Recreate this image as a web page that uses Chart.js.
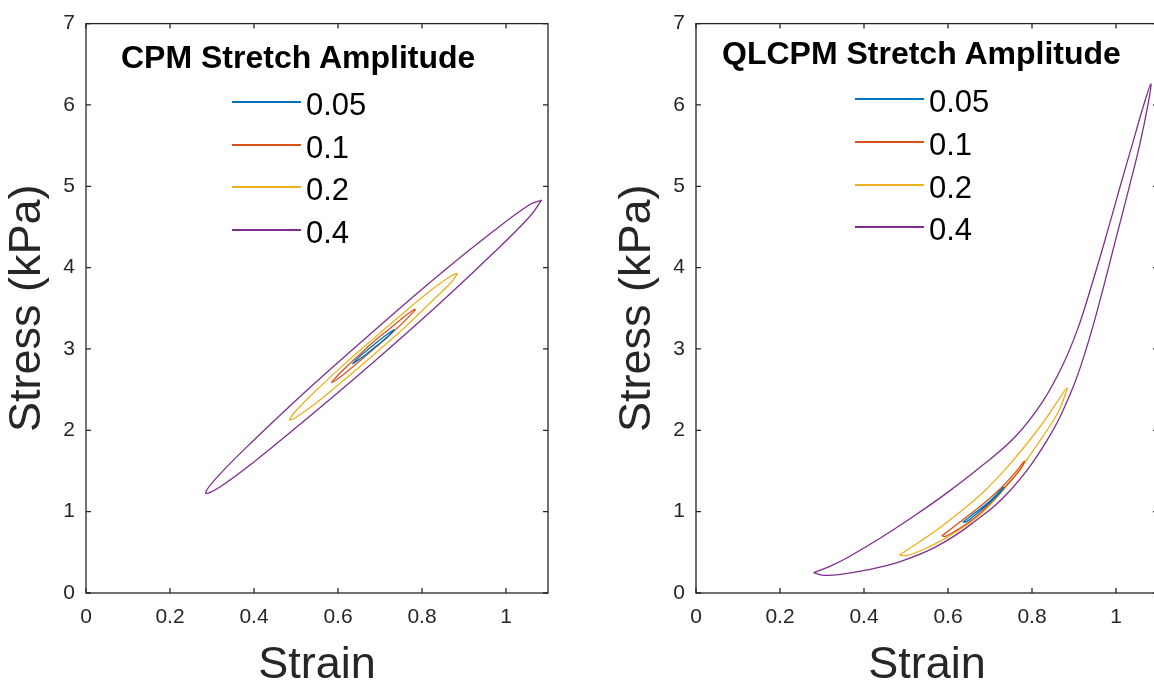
<!DOCTYPE html>
<html>
<head>
<meta charset="utf-8">
<script src="https://cdn.jsdelivr.net/npm/chart.js@4.4.1/dist/chart.umd.min.js"></script>
<style>
  html, body { margin: 0; padding: 0; width: 1154px; height: 686px; overflow: hidden; background: #fff; }
  body { position: relative; font-family: "Liberation Sans", Arial, Helvetica, sans-serif; }
  .panel { position: absolute; top: 0; width: 577px; height: 700px; }
  .lg-title { position: absolute; font-weight: bold; font-size: 32px; line-height: 32px; color: #000; white-space: nowrap; }
  .lg-line { position: absolute; height: 2px; }
  .lg-text { position: absolute; font-size: 31px; line-height: 31px; color: #000; white-space: nowrap; }
</style>
</head>
<body>
<div class="panel" style="left:0"><canvas id="chart-cpm"></canvas></div>
<div class="panel" style="left:610px"><canvas id="chart-qlcpm"></canvas></div>
<div id="legend-cpm"></div>
<div id="legend-qlcpm"></div>
<script>
const AMPLITUDES = ["0.05", "0.1", "0.2", "0.4"];
const COLORS = ["#0072BD", "#D95319", "#EDB120", "#7E2F8E"];
const X_TICK_LABELS = ["0", "0.2", "0.4", "0.6", "0.8", "1"];
const Y_TICK_LABELS = ["0", "1", "2", "3", "4", "5", "6", "7"];

// CPM loops: [strain, stress (kPa)]
const cpm005 = [[0.735,3.24],[0.731,3.23],[0.720,3.19],[0.704,3.13],[0.685,3.05],[0.666,2.97],[0.650,2.90],[0.639,2.84],[0.635,2.82],[0.639,2.83],[0.650,2.87],[0.666,2.93],[0.685,3.01],[0.704,3.09],[0.720,3.16],[0.731,3.22],[0.735,3.24]];
const cpm01 = [[0.785,3.49],[0.777,3.47],[0.756,3.39],[0.723,3.25],[0.685,3.09],[0.647,2.91],[0.614,2.75],[0.593,2.64],[0.585,2.59],[0.593,2.61],[0.614,2.69],[0.647,2.83],[0.685,3.00],[0.723,3.17],[0.756,3.33],[0.777,3.44],[0.785,3.49]];
const cpm02 = [[0.885,3.93],[0.870,3.90],[0.826,3.74],[0.762,3.47],[0.685,3.13],[0.608,2.78],[0.544,2.47],[0.500,2.24],[0.485,2.13],[0.500,2.16],[0.544,2.32],[0.608,2.59],[0.685,2.93],[0.762,3.28],[0.826,3.60],[0.870,3.82],[0.885,3.93]];
const cpm04 = [[1.085,4.83],[1.055,4.77],[0.968,4.44],[0.838,3.90],[0.685,3.22],[0.532,2.52],[0.402,1.89],[0.315,1.44],[0.285,1.23],[0.315,1.29],[0.402,1.62],[0.532,2.17],[0.685,2.84],[0.838,3.54],[0.968,4.17],[1.055,4.62],[1.085,4.83]];

// QLCPM loops
const qlcpm005 = [[0.635,0.87],[0.66,0.97],[0.70,1.13],[0.732,1.30],[0.72,1.21],[0.69,1.07],[0.66,0.94],[0.645,0.88],[0.635,0.87]];
const qlcpm01 = [[0.585,0.70],[0.60,0.76],[0.64,0.92],[0.68,1.08],[0.72,1.26],[0.76,1.48],[0.782,1.62],[0.77,1.50],[0.74,1.33],[0.70,1.10],[0.66,0.91],[0.62,0.77],[0.595,0.70],[0.585,0.70]];
const qlcpm02 = [[0.484,0.47],[0.50,0.52],[0.53,0.62],[0.60,0.88],[0.68,1.22],[0.75,1.60],[0.82,2.05],[0.86,2.35],[0.883,2.52],[0.875,2.38],[0.86,2.20],[0.82,1.88],[0.75,1.38],[0.68,0.98],[0.60,0.69],[0.53,0.51],[0.50,0.46],[0.484,0.47]];
const qlcpm04 = [[0.280,0.25],[0.32,0.33],[0.362,0.44],[0.44,0.68],[0.52,0.95],[0.60,1.24],[0.68,1.56],[0.76,1.92],[0.825,2.35],[0.873,2.80],[0.909,3.25],[0.940,3.75],[0.975,4.36],[1.010,5.00],[1.038,5.50],[1.066,6.00],[1.083,6.26],[1.076,6.00],[1.056,5.50],[1.032,5.00],[1.000,4.36],[0.962,3.60],[0.929,3.00],[0.893,2.47],[0.835,1.87],[0.748,1.26],[0.656,0.85],[0.572,0.57],[0.488,0.39],[0.404,0.28],[0.34,0.225],[0.30,0.22],[0.280,0.25]];

const AXIS = "#262626";
const FONT = "'Liberation Sans', Arial, Helvetica, sans-serif";
const TICK_LEN = 5;

/* box round the plot with inward ticks on all four sides */
const boxTicks = {
  id: "boxTicks",
  afterDraw(chart) {
    const { ctx, chartArea: a, scales: { x, y } } = chart;
    ctx.save();
    ctx.strokeStyle = AXIS;
    ctx.lineWidth = 1.3;
    ctx.strokeRect(a.left, a.top, a.right - a.left, a.bottom - a.top);
    ctx.beginPath();
    x.ticks.forEach((t) => {
      const px = x.getPixelForValue(t.value);
      ctx.moveTo(px, a.bottom); ctx.lineTo(px, a.bottom - TICK_LEN);
      ctx.moveTo(px, a.top); ctx.lineTo(px, a.top + TICK_LEN);
    });
    y.ticks.forEach((t) => {
      const py = y.getPixelForValue(t.value);
      ctx.moveTo(a.left, py); ctx.lineTo(a.left + TICK_LEN, py);
      ctx.moveTo(a.right, py); ctx.lineTo(a.right - TICK_LEN, py);
    });
    ctx.stroke();
    ctx.restore();
  },
};

function makeChart(id, loops) {
  return new Chart(document.getElementById(id), {
    type: "scatter",
    data: {
      datasets: loops.map((pts, i) => ({
        label: AMPLITUDES[i],
        data: pts.map(([x, y]) => ({ x, y })),
        showLine: true,
        borderColor: COLORS[i],
        backgroundColor: COLORS[i],
        borderWidth: 1.3,
        pointRadius: 0,
        pointHoverRadius: 0,
        tension: 0.4,
        fill: false,
      })),
    },
    options: {
      responsive: true,
      maintainAspectRatio: false,
      animation: false,
      layout: { padding: { top: 16, right: 29, left: 0, bottom: 0 } },
      plugins: { legend: { display: false }, tooltip: { enabled: false } },
      scales: {
        x: {
          type: "linear", min: 0, max: 1.1,
          afterFit: (s) => { s.height = 107; },
          grid: { display: false, drawTicks: false },
          border: { display: false },
          ticks: { stepSize: 0.2, includeBounds: false, autoSkip: false, maxRotation: 0, padding: 12, color: AXIS, font: { family: FONT, size: 21 }, callback: (v, i) => X_TICK_LABELS[i] },
          title: { display: true, text: "Strain", color: AXIS, font: { family: FONT, size: 45, lineHeight: 1 }, padding: { top: 0, bottom: 11.5 } },
        },
        y: {
          type: "linear", min: 0, max: 7,
          afterFit: (s) => { s.width = 86; },
          grid: { display: false, drawTicks: false },
          border: { display: false },
          ticks: { stepSize: 1, autoSkip: false, padding: 11, color: AXIS, font: { family: FONT, size: 21 }, callback: (v, i) => Y_TICK_LABELS[i] },
          title: { display: true, text: "Stress (kPa)", color: AXIS, font: { family: FONT, size: 45, lineHeight: 1 }, padding: { top: 5.5, bottom: 0 } },
        },
      },
    },
    plugins: [boxTicks],
  });
}

function renderLegend(id, title, pos) {
  const rows = AMPLITUDES.map((lab, i) => {
    const y = Math.round(pos.rowY + i * pos.rowStep);
    return `<div class="lg-line" style="left:${pos.lineX}px;top:${y - 1}px;width:${pos.lineW}px;background-color:${COLORS[i]}"></div>` +
      `<div class="lg-text" style="left:${pos.lineX + pos.lineW + 5}px;top:${y + 2 - 15.5}px">${lab}</div>`;
  }).join("");
  document.getElementById(id).innerHTML =
    `<div class="lg-title" style="left:${pos.titleX}px;top:${pos.titleY - 15.6}px">${title}</div>` + rows;
}

makeChart("chart-cpm", [cpm005, cpm01, cpm02, cpm04]);
makeChart("chart-qlcpm", [qlcpm005, qlcpm01, qlcpm02, qlcpm04]);
renderLegend("legend-cpm", "CPM Stretch Amplitude", { titleX: 121, titleY: 56.5, lineX: 232, lineW: 69, rowY: 101.7, rowStep: 42.8 });
renderLegend("legend-qlcpm", "QLCPM Stretch Amplitude", { titleX: 722, titleY: 53, lineX: 855, lineW: 69, rowY: 99, rowStep: 42.8 });
</script>
</body>
</html>
